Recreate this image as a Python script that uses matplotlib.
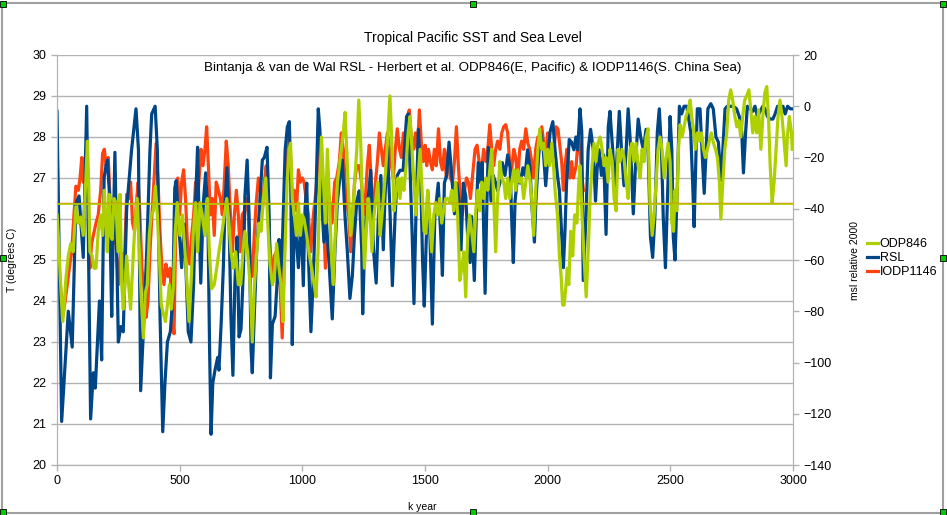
import matplotlib
matplotlib.use('Agg')
import matplotlib.pyplot as plt
from matplotlib.patches import Rectangle

plt.rcParams['font.family'] = ['Liberation Sans', 'DejaVu Sans']

# Bintanja & van de Wal relative sea level (m, right axis)
rsl_kyr = [0, 19, 46, 62, 77, 90, 107, 121, 137, 148, 156, 173, 182, 192, 200, 206, 213, 223, 229, 236,
           243, 250, 260, 270, 284, 304, 322, 332, 341, 352, 366, 379, 386, 400, 409, 420, 431, 440, 450, 462,
           472, 480, 486, 494, 508, 519, 535, 546, 557, 565, 573, 579, 586, 597, 606, 615, 622, 628, 635, 644,
           655, 660, 669, 678, 685, 693, 701, 709, 717, 725, 734, 742, 750, 760, 766, 775, 783, 791, 796, 804,
           814, 823, 837, 845, 856, 865, 870, 878, 889, 897, 905, 910, 918, 930, 939, 947, 953, 959, 967, 975,
           984, 995, 1004, 1011, 1018, 1025, 1035, 1045, 1056, 1065, 1072, 1079, 1088, 1099, 1110, 1122, 1133, 1143, 1154, 1163,
           1174, 1183, 1194, 1204, 1212, 1222, 1232, 1242, 1246, 1256, 1269, 1279, 1290, 1301, 1310, 1320, 1330, 1337, 1347, 1358,
           1367, 1378, 1387, 1398, 1411, 1425, 1432, 1439, 1448, 1455, 1463, 1473, 1483, 1490, 1497, 1511, 1520, 1530, 1540, 1554,
           1564, 1571, 1579, 1588, 1598, 1609, 1620, 1629, 1639, 1647, 1656, 1666, 1674, 1684, 1690, 1701, 1711, 1717, 1728, 1733,
           1745, 1751, 1758, 1769, 1778, 1788, 1796, 1805, 1815, 1826, 1837, 1847, 1853, 1860, 1867, 1878, 1888, 1899, 1908, 1918,
           1928, 1935, 1946, 1952, 1962, 1971, 1982, 1992, 2000, 2010, 2021, 2030, 2040, 2048, 2057, 2064, 2070, 2077, 2088, 2097,
           2107, 2115, 2122, 2132, 2139, 2145, 2156, 2165, 2175, 2186, 2195, 2202, 2210, 2219, 2228, 2238, 2247, 2254, 2265, 2275,
           2284, 2292, 2301, 2311, 2320, 2328, 2337, 2349, 2360, 2369, 2379, 2390, 2401, 2410, 2419, 2428, 2437, 2447, 2455, 2464,
           2471, 2480, 2488, 2499, 2506, 2512, 2519, 2529, 2537, 2546, 2556, 2567, 2583, 2591, 2597, 2605, 2610, 2621, 2629, 2638,
           2646, 2653, 2665, 2675, 2686, 2696, 2706, 2714, 2723, 2732, 2743, 2757, 2770, 2781, 2791, 2798, 2807, 2814, 2825, 2836,
           2845, 2855, 2866, 2877, 2886, 2896, 2907, 2918, 2927, 2937, 2948, 2959, 2968, 2978, 2989, 2997]
rsl_m = [-2, -123, -80, -94, -38, -35, -59, 0, -122, -104, -110, -76, -99, -28, -23, -21, -33, -82, -51, -18,
         -56, -92, -86, -88, -40, -17, -1, -17, -111, -88, -56, -17, -3, 0, -17, -82, -127, -108, -92, -88,
         -75, -32, -29, -43, -63, -46, -88, -92, -69, -37, -16, -43, -69, -37, -26, -43, -95, -128, -108, -103,
         -98, -103, -85, -63, -38, -24, -43, -82, -105, -69, -51, -90, -87, -63, -35, -21, -43, -95, -104, -82,
         -56, -43, -21, -20, -16, -43, -106, -85, -82, -69, -52, -69, -56, -17, -8, -6, -30, -93, -43, -51,
         -63, -43, -70, -40, -30, -59, -88, -66, -33, -1, -10, -37, -53, -46, -63, -83, -56, -37, -27, -21,
         -43, -56, -75, -66, -51, -37, -33, -56, -81, -47, -35, -25, -56, -69, -43, -27, -56, -35, -16, -43,
         -70, -43, -27, -25, -25, -4, -3, -24, -51, -77, -43, -9, -30, -60, -78, -33, -50, -85, -43, -30,
         -50, -66, -30, -27, -14, -27, -42, -30, -37, -56, -30, -35, -51, -61, -43, -68, -37, -22, -30, -22,
         -73, -43, -16, -37, -27, -30, -33, -30, -22, -27, -19, -24, -43, -61, -37, -27, -30, -24, -27, -17,
         -24, -38, -53, -37, -21, -10, -17, -31, -21, -10, -6, -17, -27, -33, -50, -63, -50, -30, -13, -14,
         -17, -12, -17, -1, -10, -68, -43, -17, -9, -17, -37, -24, -17, -27, -19, -50, -8, -2, -17, -34,
         -17, -2, -17, -31, -17, -1, -14, -42, -19, -5, -12, -17, -9, -19, -51, -59, -43, -10, -1, -17,
         -43, -63, -37, -4, -17, -51, -60, -30, 0, -3, 0, 0, -10, -30, -47, -17, -1, -1, -17, -34,
         -17, -1, 1, -1, -12, -14, -29, -17, -1, 0, 0, 0, -1, -4, -10, -26, -10, 0, -1, -2,
         0, -4, -2, 0, -1, -4, -5, -5, -3, 0, -1, 0, -3, 0, -1, -1]

# Herbert et al. ODP846 SST (deg C)
odp_kyr = [0, 5, 15, 23, 29, 37, 46, 56, 66, 77, 87, 96, 107, 117, 124, 129, 134, 143, 151, 159,
           168, 178, 186, 193, 200, 205, 212, 219, 225, 232, 240, 249, 257, 264, 270, 277, 284, 292, 300, 308,
           318, 327, 336, 344, 352, 360, 368, 376, 384, 393, 401, 409, 417, 425, 433, 442, 450, 458, 466, 474,
           482, 490, 501, 511, 522, 530, 538, 546, 556, 565, 573, 583, 592, 603, 613, 621, 630, 641, 651, 660,
           671, 682, 692, 701, 709, 719, 728, 739, 749, 758, 766, 777, 787, 796, 804, 814, 823, 832, 841, 851,
           859, 868, 878, 886, 895, 905, 913, 921, 929, 938, 946, 952, 959, 967, 976, 984, 992, 1000, 1007, 1018,
           1029, 1038, 1048, 1056, 1064, 1072, 1078, 1086, 1094, 1102, 1110, 1118, 1126, 1135, 1143, 1151, 1159, 1167, 1174, 1181,
           1189, 1197, 1205, 1213, 1222, 1230, 1238, 1246, 1253, 1260, 1268, 1276, 1284, 1292, 1300, 1308, 1317, 1325, 1333, 1341,
           1349, 1357, 1366, 1374, 1382, 1390, 1398, 1406, 1414, 1423, 1431, 1439, 1447, 1455, 1463, 1472, 1480, 1488, 1496, 1504,
           1511, 1519, 1527, 1536, 1544, 1552, 1560, 1568, 1576, 1584, 1593, 1601, 1609, 1617, 1625, 1633, 1642, 1650, 1658, 1666,
           1674, 1682, 1690, 1699, 1707, 1715, 1723, 1731, 1739, 1748, 1756, 1764, 1772, 1780, 1788, 1796, 1805, 1813, 1821, 1829,
           1837, 1845, 1853, 1862, 1870, 1878, 1886, 1894, 1902, 1911, 1919, 1927, 1935, 1943, 1951, 1960, 1968, 1976, 1984, 1992,
           2000, 2008, 2017, 2025, 2030, 2040, 2048, 2055, 2061, 2067, 2075, 2080, 2086, 2094, 2102, 2110, 2119, 2127, 2132, 2140,
           2148, 2157, 2165, 2173, 2181, 2189, 2197, 2205, 2214, 2222, 2230, 2238, 2246, 2254, 2263, 2271, 2279, 2287, 2295, 2303,
           2311, 2320, 2328, 2336, 2344, 2352, 2360, 2369, 2377, 2385, 2393, 2401, 2409, 2417, 2426, 2434, 2442, 2450, 2458, 2466,
           2475, 2483, 2491, 2499, 2506, 2513, 2519, 2526, 2533, 2540, 2548, 2556, 2564, 2572, 2581, 2587, 2594, 2602, 2610, 2619,
           2627, 2635, 2643, 2651, 2659, 2667, 2676, 2684, 2692, 2700, 2706, 2714, 2722, 2730, 2738, 2746, 2754, 2763, 2771, 2779,
           2787, 2795, 2803, 2811, 2820, 2828, 2836, 2844, 2852, 2860, 2869, 2877, 2885, 2893, 2900, 2907, 2915, 2923, 2931, 2939,
           2947, 2955, 2964, 2972, 2977, 2985, 2994, 2997]
odp_t = [26.1, 25.6, 24.4, 23.5, 23.9, 24.6, 25.1, 25.4, 25.2, 26.3, 25.9, 26.05, 25.6, 26.9, 27.9, 26.9, 25.2, 25.1, 24.8, 24.8,
         25.7, 26.1, 25.6, 26.7, 25.9, 25.2, 26.6, 25.6, 25.5, 26.5, 26.4, 25.2, 26.6, 24.4, 23.8, 24.4, 25.1, 24.4, 23.8, 24.8,
         25.9, 26.5, 25.2, 24.0, 23.1, 24.2, 24.4, 25.6, 26.1, 26.2, 26.8, 26.1, 25.1, 23.9, 23.7, 23.5, 23.9, 24.4, 23.8, 24.3,
         25.7, 26.4, 25.6, 26.1, 25.2, 24.4, 23.5, 24.4, 25.7, 26.4, 25.2, 26.4, 26.1, 25.6, 26.5, 25.2, 24.3, 24.4, 24.8, 25.2,
         25.6, 26.1, 26.5, 25.9, 25.2, 24.8, 25.2, 24.4, 24.4, 25.2, 25.7, 25.2, 24.4, 23.0, 24.3, 25.2, 25.9, 25.7, 26.5, 27.0,
         25.9, 24.9, 24.4, 24.6, 25.4, 24.8, 24.4, 23.5, 25.2, 26.9, 27.7, 27.85, 26.5, 26.1, 25.6, 26.4, 25.6, 26.1, 26.0, 25.6,
         25.1, 24.8, 24.4, 24.1, 25.2, 27.0, 28.0, 26.9, 25.9, 27.7, 26.5, 25.2, 24.4, 25.7, 26.9, 27.3, 27.7, 28.1, 28.6, 27.7,
         26.5, 25.6, 26.1, 26.9, 27.7, 28.9, 27.85, 26.1, 24.8, 25.6, 26.5, 26.1, 25.2, 26.1, 26.5, 26.9, 25.6, 26.1, 26.7, 27.3,
         28.1, 29.0, 27.7, 26.2, 26.7, 27.0, 26.5, 27.0, 26.7, 27.3, 28.1, 28.5, 27.7, 26.9, 26.1, 27.0, 27.7, 26.7, 25.7, 25.65,
         26.7, 26.1, 25.2, 26.1, 26.4, 26.1, 26.5, 25.9, 26.2, 26.5, 26.5, 26.4, 26.7, 26.2, 26.9, 26.1, 24.5, 24.8, 25.2, 24.1,
         25.6, 26.1, 25.7, 25.2, 26.2, 26.7, 26.2, 26.9, 26.5, 27.0, 26.7, 27.2, 27.7, 26.5, 25.2, 26.5, 27.4, 27.0, 26.9, 26.5,
         27.0, 26.5, 26.9, 27.2, 26.7, 27.2, 26.9, 27.0, 26.5, 26.9, 27.3, 27.0, 26.5, 25.6, 26.7, 27.7, 28.2, 27.7, 27.85, 27.3,
         27.7, 27.3, 27.85, 27.2, 26.7, 26.1, 25.1, 24.6, 23.9, 23.9, 24.4, 24.8, 24.4, 25.7, 25.1, 26.1, 25.9, 26.9, 27.3, 26.1,
         25.1, 24.1, 25.2, 26.5, 27.3, 27.85, 27.4, 27.85, 28.0, 27.7, 27.3, 27.5, 26.9, 27.7, 27.4, 26.5, 26.2, 27.7, 27.4, 27.7,
         27.5, 26.9, 26.5, 27.7, 27.85, 27.4, 27.85, 27.3, 27.0, 27.7, 27.4, 28.0, 28.2, 26.4, 25.6, 26.1, 26.9, 27.7, 28.0, 27.7,
         27.0, 27.5, 27.85, 27.4, 25.9, 25.7, 26.7, 26.2, 27.7, 28.3, 28.0, 28.25, 28.5, 28.66, 28.9, 28.5, 28.2, 27.7, 28.1, 27.9,
         28.1, 27.7, 27.5, 27.7, 27.9, 28.1, 27.85, 27.7, 27.5, 26.9, 26.0, 26.9, 27.7, 28.1, 28.9, 29.15, 28.9, 28.5, 28.25, 28.4,
         28.0, 28.5, 28.9, 29.0, 29.15, 28.66, 28.1, 28.5, 28.1, 28.66, 27.7, 28.5, 29.07, 29.23, 28.5, 27.3, 26.4, 26.9, 27.7, 28.5,
         28.9, 28.5, 27.85, 27.3, 28.0, 28.5, 28.1, 27.7]

# IODP1146 SST (deg C)
iodp_kyr = [1, 7, 15, 23, 33, 42, 50, 60, 69, 77, 87, 94, 101, 107, 118, 126, 134, 141, 148, 159,
            168, 178, 186, 193, 200, 209, 216, 223, 230, 236, 243, 251, 260, 268, 276, 284, 292, 300, 308, 316,
            325, 331, 338, 346, 355, 363, 371, 379, 387, 396, 404, 412, 420, 428, 436, 444, 452, 461, 469, 477,
            485, 492, 500, 508, 516, 524, 533, 541, 549, 557, 565, 576, 587, 595, 603, 610, 617, 625, 633, 641,
            649, 658, 666, 674, 682, 690, 698, 707, 715, 723, 731, 739, 747, 755, 764, 772, 780, 788, 796, 804,
            812, 821, 829, 837, 845, 853, 861, 870, 878, 886, 894, 902, 910, 918, 927, 935, 943, 951, 959, 967,
            976, 984, 992, 1000, 1007, 1015, 1025, 1034, 1045, 1056, 1067, 1075, 1086, 1094, 1102, 1110, 1121, 1132, 1140, 1151,
            1159, 1167, 1178, 1189, 1197, 1205, 1213, 1222, 1232, 1241, 1249, 1257, 1265, 1273, 1281, 1290, 1298, 1306, 1314, 1322,
            1330, 1338, 1347, 1355, 1363, 1371, 1379, 1387, 1396, 1404, 1412, 1420, 1428, 1436, 1444, 1453, 1461, 1469, 1477, 1485,
            1493, 1501, 1507, 1514, 1522, 1530, 1538, 1546, 1555, 1563, 1571, 1579, 1587, 1595, 1603, 1612, 1620, 1628, 1636, 1644,
            1652, 1661, 1669, 1677, 1685, 1693, 1704, 1712, 1723, 1731, 1739, 1748, 1756, 1764, 1772, 1780, 1788, 1796, 1805, 1813,
            1821, 1829, 1837, 1845, 1853, 1862, 1870, 1878, 1886, 1894, 1902, 1911, 1919, 1927, 1935, 1943, 1951, 1960, 1968, 1976,
            1984, 1992, 2000, 2010, 2023, 2034, 2042, 2051, 2057, 2064, 2071, 2078, 2085, 2091, 2098, 2105, 2116, 2125, 2132, 2140,
            2146]
iodp_t = [27.6, 24.8, 24.3, 23.6, 24.0, 24.4, 24.8, 25.2, 26.1, 26.8, 26.7, 27.0, 27.5, 26.9, 27.7, 26.9, 24.8, 25.4, 25.6, 25.9,
          26.1, 26.7, 27.6, 27.7, 27.3, 27.5, 26.5, 25.65, 25.4, 26.1, 25.1, 24.4, 25.2, 24.8, 25.2, 26.6, 26.5, 26.9, 25.9, 25.7,
          26.5, 26.9, 26.1, 24.8, 24.3, 23.6, 24.0, 25.2, 26.1, 27.0, 27.85, 26.9, 25.65, 24.8, 24.4, 24.9, 24.6, 24.8, 23.6, 23.2,
          26.1, 27.0, 26.1, 26.9, 27.2, 26.5, 25.2, 24.9, 25.6, 26.1, 26.9, 26.7, 27.7, 27.3, 27.7, 28.25, 27.3, 26.1, 26.5, 25.6,
          26.9, 26.7, 26.5, 26.1, 26.9, 27.9, 27.3, 26.1, 25.2, 26.1, 26.7, 26.1, 25.2, 26.1, 26.2, 26.5, 26.1, 24.9, 24.6, 25.6,
          26.4, 27.0, 26.7, 26.2, 26.9, 27.3, 26.1, 25.2, 24.4, 25.1, 25.2, 24.8, 24.3, 23.1, 25.2, 26.9, 28.0, 27.7, 26.5, 26.7,
          26.2, 27.2, 26.9, 27.0, 26.9, 26.5, 26.1, 25.2, 26.1, 26.7, 27.7, 27.3, 26.1, 24.8, 26.7, 26.5, 25.9, 26.9, 27.0, 27.4,
          28.1, 27.7, 26.5, 26.1, 25.2, 26.1, 26.9, 27.3, 27.3, 26.9, 26.1, 26.5, 27.3, 27.8, 26.9, 26.1, 26.9, 27.4, 28.1, 27.7,
          27.3, 27.7, 28.1, 27.7, 27.3, 27.0, 27.7, 28.2, 27.7, 27.5, 28.1, 28.0, 28.5, 28.66, 28.0, 27.7, 28.1, 27.7, 28.66, 27.85,
          27.4, 27.8, 27.3, 27.7, 27.4, 27.2, 27.7, 27.3, 28.2, 27.4, 27.2, 27.7, 27.0, 27.7, 27.0, 26.9, 27.4, 28.25, 27.3, 26.5,
          26.1, 26.7, 27.0, 26.9, 26.5, 27.0, 27.7, 27.8, 27.3, 27.2, 27.7, 27.4, 27.7, 28.3, 27.7, 27.3, 27.7, 27.9, 27.7, 28.1,
          28.25, 28.3, 28.1, 27.4, 27.2, 27.7, 27.5, 26.9, 27.7, 27.9, 27.7, 28.2, 27.85, 27.7, 27.4, 27.0, 27.7, 28.0, 27.7, 28.25,
          27.85, 27.5, 28.1, 27.8, 27.5, 28.25, 28.2, 27.7, 27.4, 26.7, 27.3, 27.7, 27.4, 27.0, 27.4, 27.0, 27.3, 28.0, 27.7, 27.0,
          26.7]

# level of the two flat lines across the chart (deg C)
flat_level = 26.38

x_ticks = [0, 500, 1000, 1500, 2000, 2500, 3000]
t_ticks = list(range(20, 31))
rsl_ticks = list(range(-140, 21, 20))

C_BLUE = '#004586'
C_ORANGE = '#ff420e'
C_GREEN = '#aecf00'
C_GRID = '#b3b3b3'

fig = plt.figure(figsize=(9.47, 5.15), dpi=100)
ax = fig.add_axes([57 / 947, 1 - 465 / 515, 736 / 947, 410 / 515])
ax2 = ax.twinx()
ax3 = ax.twinx()

ax.plot(iodp_kyr, iodp_t, color=C_ORANGE, lw=2.3, solid_joinstyle='round')
ax2.plot(rsl_kyr, rsl_m, color=C_BLUE, lw=2.3, solid_joinstyle='round')
ax3.plot(odp_kyr, odp_t, color=C_GREEN, lw=2.3, solid_joinstyle='round')
ax3.axhline(flat_level + 0.02, color=C_ORANGE, lw=1.0)
ax3.axhline(flat_level - 0.02, color=C_GREEN, lw=1.2)

ax.set_xlim(0, 3000)
ax.set_ylim(20, 30)
ax3.set_ylim(20, 30)
ax2.set_ylim(-140, 20)
ax.set_xticks(x_ticks)
ax.set_yticks(t_ticks)
ax2.set_yticks(rsl_ticks)
ax3.set_yticks([])

ax.yaxis.grid(True, color=C_GRID, lw=1)
ax.set_axisbelow(True)

for a in (ax, ax2, ax3):
    for s in a.spines.values():
        s.set_color(C_GRID)
    a.spines['top'].set_visible(False)
ax3.spines['right'].set_visible(False)
ax3.spines['left'].set_visible(False)
ax3.spines['bottom'].set_visible(False)

ax.tick_params(axis='both', colors=C_GRID, labelcolor='black', labelsize=9, length=4, width=1)
ax2.tick_params(axis='y', colors=C_GRID, labelcolor='black', labelsize=9, length=4, width=1)

ax.set_xlabel('k year', fontsize=7.5)
ax.xaxis.set_label_coords((422 - 57) / 736, (465 - 502) / 410)
ax.set_ylabel('T (degrees C)', fontsize=7.5)
ax.yaxis.set_label_coords((17 - 57) / 736, 0.5)
ax2.set_ylabel('msl relative 2000', fontsize=7.5)
ax2.yaxis.set_label_coords((850 - 57) / 736, 0.5)

fig.text(473 / 947, 1 - 38 / 515, 'Tropical Pacific SST and Sea Level', ha='center', va='center', fontsize=10)
fig.text(473 / 947, 1 - 68 / 515,
         'Bintanja & van de Wal RSL - Herbert et al. ODP846(E, Pacific) & IODP1146(S. China Sea)',
         ha='center', va='center', fontsize=9.6, zorder=10)

h_odp, = ax.plot([], [], color=C_GREEN, lw=2.3)
h_rsl, = ax.plot([], [], color=C_BLUE, lw=2.3)
h_iodp, = ax.plot([], [], color=C_ORANGE, lw=2.3)
fig.legend([h_odp, h_rsl, h_iodp], ['ODP846', 'RSL', 'IODP1146'], loc='center left',
           bbox_to_anchor=(867 / 947, 1 - 258 / 515), frameon=False, fontsize=9,
           handlelength=0.9, handletextpad=0.1, labelspacing=0.15, borderpad=0, borderaxespad=0)

# frame and selection handles of the screenshot
fig.patches.append(Rectangle((2 / 947, 2 / 515), 941 / 947, 510 / 515, transform=fig.transFigure,
                             fill=False, edgecolor='#a0a0a0', lw=1.5))
for hx in (3, 473, 943):
    for hy in (3, 257, 511):
        if hx == 473 and hy == 257:
            continue
        fig.patches.append(Rectangle(((hx - 3) / 947, (hy - 3) / 515), 6 / 947, 6 / 515,
                                     transform=fig.transFigure, facecolor='#00cc00', edgecolor='black', lw=0.6))

fig.savefig('out.png', dpi=100)
